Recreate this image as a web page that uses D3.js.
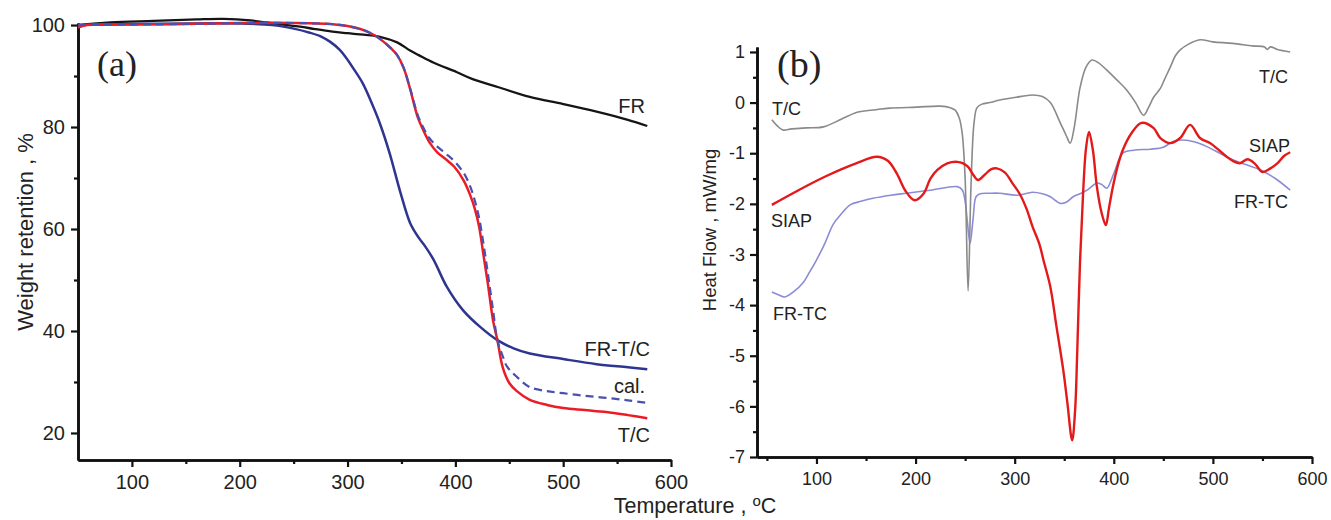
<!DOCTYPE html>
<html><head><meta charset="utf-8">
<script src="https://cdn.jsdelivr.net/npm/d3@7"></script>
<style>
body{margin:0;background:#fff;}
svg text{font-family:"Liberation Sans",Arial,sans-serif;fill:#222;}
</style></head>
<body><svg id="c" width="1331" height="520"></svg>
<script>
// ---------- Panel (a): TGA weight retention (%) ----------
const frT   = [50,80,120,160,185,210,225,240,256,270,286,300,315,330,346,358,366,380,401,416,440,469,500,531,560,578];
const frW   = [100,100.5,100.8,101.1,101.2,100.9,100.5,100.1,99.7,99.2,98.7,98.4,98.1,97.7,96.6,95.0,94.1,92.6,90.8,89.4,87.8,85.9,84.5,83.0,81.4,80.2];

const tcT   = [50,58,100,150,200,250,284,300,315,325,333,340,346,352,358,365,370,376,383,391,399,408,414,418,422,426,430,435,439,444,450,457,469,485,500,520,540,560,578];
const tcW   = [99.5,100.0,100.1,100.2,100.4,100.4,100.2,99.8,99.0,98.0,96.8,95.5,94.1,91.6,87.5,82.0,79.5,77.0,75.1,73.7,72.2,69.4,66.5,64.0,60.5,55.0,49.5,42.0,38.2,32.8,29.8,28.2,26.5,25.5,24.9,24.5,24.1,23.5,22.9];

const calT  = [50,100,150,200,250,284,300,315,325,333,340,346,352,358,365,370,376,383,391,399,408,414,418,422,426,430,435,439,444,448,457,469,485,500,520,540,560,578];
const calW  = [100,100.1,100.2,100.4,100.4,100.2,99.8,99.0,98.0,96.8,95.5,94.1,91.6,87.6,82.4,80.0,77.8,76.2,74.8,73.3,70.9,68.2,65.6,62.2,57.2,51.5,44.0,38.2,35.0,33.0,31.0,29.0,28.2,27.8,27.3,26.9,26.4,25.9];

const frtcT = [50,100,150,200,230,250,265,276,284,293,299,306,314,322,330,339,349,358,366,372,380,392,407,423,439,454,469,500,531,560,578];
const frtcW = [100,100.2,100.3,100.3,100.0,99.3,98.5,97.7,96.7,95.1,93.5,91.3,88.6,84.9,80.7,74.9,67.2,61.2,58.3,56.6,53.9,48.7,44.1,40.8,38.2,36.6,35.6,34.5,33.5,32.9,32.5];

const aXTicks = [100,200,300,400,500,600];
const aXMinor = [150,250,350,450,550];
const aYTicks = [20,40,60,80,100];
const aYMinor = [30,50,70,90];

// ---------- Panel (b): DSC heat flow (mW/mg) ----------
const bTcT  = [55,60,66,75,90,107,125,141,160,174,201,225,235,240,244,247,250,253,256,259,262,267,275,285,300,318,328,336,346,352,356,360,366,372,378,385,393,403,413,422,430,435,440,447,451,457,462,467,475,487,500,520,540,552,555,558,565,578];
const bTcV  = [-0.34,-0.45,-0.54,-0.52,-0.5,-0.48,-0.33,-0.19,-0.14,-0.11,-0.09,-0.07,-0.1,-0.15,-0.3,-0.6,-1.5,-3.72,-1.6,-0.4,-0.1,-0.03,0.0,0.05,0.1,0.15,0.12,0.0,-0.4,-0.65,-0.8,-0.5,0.3,0.7,0.84,0.78,0.64,0.45,0.25,0.0,-0.25,-0.1,0.1,0.28,0.45,0.70,0.92,1.04,1.15,1.24,1.2,1.17,1.12,1.1,1.05,1.1,1.05,1.0];

const bSiT  = [55,80,110,140,161,172,181,190,199,208,215,222,232,242,248,253,258,263,270,276,282,290,298,305,312,318,325,329,336,342,349,353,358,361,363,366,369,372,375,379,383,388,392,395,399,404,409,418,428,440,447,457,467,477,487,497,505,514,520,527,535,542,550,558,565,572,578];
const bSiV  = [-2.02,-1.75,-1.45,-1.2,-1.07,-1.15,-1.4,-1.75,-1.93,-1.8,-1.5,-1.33,-1.2,-1.17,-1.2,-1.27,-1.42,-1.53,-1.42,-1.32,-1.3,-1.38,-1.6,-1.8,-2.1,-2.45,-2.8,-3.11,-3.64,-4.4,-5.28,-5.9,-6.67,-6.07,-5.0,-3.11,-1.8,-0.9,-0.58,-0.95,-1.67,-2.2,-2.42,-2.1,-1.67,-1.25,-0.94,-0.6,-0.4,-0.5,-0.7,-0.8,-0.7,-0.44,-0.7,-0.8,-0.92,-1.07,-1.15,-1.2,-1.12,-1.2,-1.37,-1.3,-1.2,-1.05,-0.98];

const bFrT  = [55,62,68,78,86,93,100,108,117,125,134,145,157,175,191,215,242,247,250,252,255,258,261,265,275,285,302,318,328,336,346,352,359,366,373,383,388,393,400,409,420,437,450,460,470,482,494,507,520,534,548,563,578];
const bFrV  = [-3.74,-3.8,-3.84,-3.72,-3.57,-3.35,-3.11,-2.8,-2.4,-2.2,-2.02,-1.95,-1.89,-1.83,-1.79,-1.73,-1.66,-1.72,-1.95,-2.3,-2.78,-2.3,-1.86,-1.8,-1.79,-1.79,-1.83,-1.77,-1.8,-1.86,-1.99,-1.97,-1.86,-1.8,-1.73,-1.59,-1.62,-1.69,-1.4,-1.0,-0.94,-0.92,-0.88,-0.77,-0.74,-0.78,-0.87,-1.0,-1.13,-1.23,-1.33,-1.5,-1.73];

const bXTicks = [100,200,300,400,500,600];
const bXMinor = [50,150,250,350,450,550];
const bYTicks = [1,0,-1,-2,-3,-4,-5,-6,-7];
const bYMinor = [0.5,-0.5,-1.5,-2.5,-3.5,-4.5,-5.5,-6.5];

const svg = d3.select("#c");
const zip = (xs, ys) => xs.map((x,i)=>[x, ys[i]]);
const fmt = d => String(d);   // plain hyphen-minus like the original

function drawAxes(g, x, y, xt, xm, yt, ym, fs, ypad){
  const ax = g.append("g").attr("transform",`translate(0,${y.range()[0]})`)
    .call(d3.axisBottom(x).tickValues(xt).tickSize(7).tickSizeOuter(0).tickPadding(8).tickFormat(fmt));
  const axm = g.append("g").attr("transform",`translate(0,${y.range()[0]})`)
    .call(d3.axisBottom(x).tickValues(xm).tickSize(4).tickSizeOuter(0).tickFormat(""));
  const ay = g.append("g").attr("transform",`translate(${x.range()[0]},0)`)
    .call(d3.axisLeft(y).tickValues(yt).tickSize(7).tickSizeOuter(0).tickPadding(ypad).tickFormat(fmt));
  const aym = g.append("g").attr("transform",`translate(${x.range()[0]},0)`)
    .call(d3.axisLeft(y).tickValues(ym).tickSize(4).tickSizeOuter(0).tickFormat(""));
  [ax,axm,ay,aym].forEach(a=>{
    a.select(".domain").attr("stroke","#111").attr("stroke-width",2.6);
    a.selectAll(".tick line").attr("stroke","#111").attr("stroke-width",2.2);
    a.selectAll(".tick text").style("font-size",fs+"px").attr("fill","#222").style("font-family","'Liberation Sans',Arial,sans-serif");
  });
}

// ---------- Panel (a) ----------
const xA = d3.scaleLinear().domain([50,600]).range([78,671]);
const yA = d3.scaleLinear().domain([14.7,100.4]).range([460,23]);
const gA = svg.append("g");
drawAxes(gA, xA, yA, aXTicks, aXMinor, aYTicks, aYMinor, 20, 6);
const lineA = d3.line().x(d=>xA(d[0])).y(d=>yA(d[1])).curve(d3.curveCatmullRom.alpha(0.5));

gA.append("path").datum(zip(frT,frW)).attr("d",lineA).attr("fill","none").attr("stroke","#151515").attr("stroke-width",2.3);
gA.append("path").datum(zip(frtcT,frtcW)).attr("d",lineA).attr("fill","none").attr("stroke","#2e3590").attr("stroke-width",2.5);
gA.append("path").datum(zip(tcT,tcW)).attr("d",lineA).attr("fill","none").attr("stroke","#ec1c24").attr("stroke-width",2.5);
gA.append("path").datum(zip(calT,calW)).attr("d",lineA).attr("fill","none").attr("stroke","#4b4fb0").attr("stroke-width",2.2).attr("stroke-dasharray","8,5");

gA.append("text").attr("x",97).attr("y",76).text("(a)").style("font-family","'Liberation Serif','Times New Roman',serif").style("font-size","36px").attr("fill","#222");
const labA = [["FR",645,113],["FR-T/C",650,356],["cal.",645,393],["T/C",650,442]];
labA.forEach(l=>gA.append("text").attr("x",l[1]).attr("y",l[2]).attr("text-anchor","end").style("font-size","20px").text(l[0]));
gA.append("text").attr("transform","translate(33,232) rotate(-90)").attr("text-anchor","middle").style("font-size","22px").text("Weight retention , %");

// ---------- Panel (b) ----------
const xB = d3.scaleLinear().domain([40,600]).range([757,1312]);
const yB = d3.scaleLinear().domain([-7,1.1]).range([457,46.9]);
const gB = svg.append("g");
drawAxes(gB, xB, yB, bXTicks, bXMinor, bYTicks, bYMinor, 18, 5);
const lineB = d3.line().x(d=>xB(d[0])).y(d=>yB(d[1])).curve(d3.curveCatmullRom.alpha(0.5));

gB.append("path").datum(zip(bFrT,bFrV)).attr("d",lineB).attr("fill","none").attr("stroke","#8c8cd6").attr("stroke-width",1.6);
gB.append("path").datum(zip(bTcT,bTcV)).attr("d",lineB).attr("fill","none").attr("stroke","#8a8a8a").attr("stroke-width",1.6);
gB.append("path").datum(zip(bSiT,bSiV)).attr("d",lineB).attr("fill","none").attr("stroke","#e31a1c").attr("stroke-width",2.4);

gB.append("text").attr("x",777).attr("y",77).text("(b)").style("font-family","'Liberation Serif','Times New Roman',serif").style("font-size","38px").attr("fill","#222");
const labB = [["T/C",772,115,"start"],["SIAP",771,227,"start"],["FR-TC",773,320,"start"],["T/C",1288,83,"end"],["SIAP",1290,152,"end"],["FR-TC",1288,208,"end"]];
labB.forEach(l=>gB.append("text").attr("x",l[1]).attr("y",l[2]).attr("text-anchor",l[3]).style("font-size","18px").text(l[0]));
gB.append("text").attr("transform","translate(716,230) rotate(-90)").attr("text-anchor","middle").style("font-size","18.5px").text("Heat Flow , mW/mg");

// shared x title
const xt = svg.append("text").attr("x",695).attr("y",513).attr("text-anchor","middle").style("font-size","21.5px");
xt.append("tspan").text("Temperature , ");
xt.append("tspan").text("o").style("font-size","15px").attr("dy","-7");
xt.append("tspan").text("C").attr("dy","7");
</script></body></html>
